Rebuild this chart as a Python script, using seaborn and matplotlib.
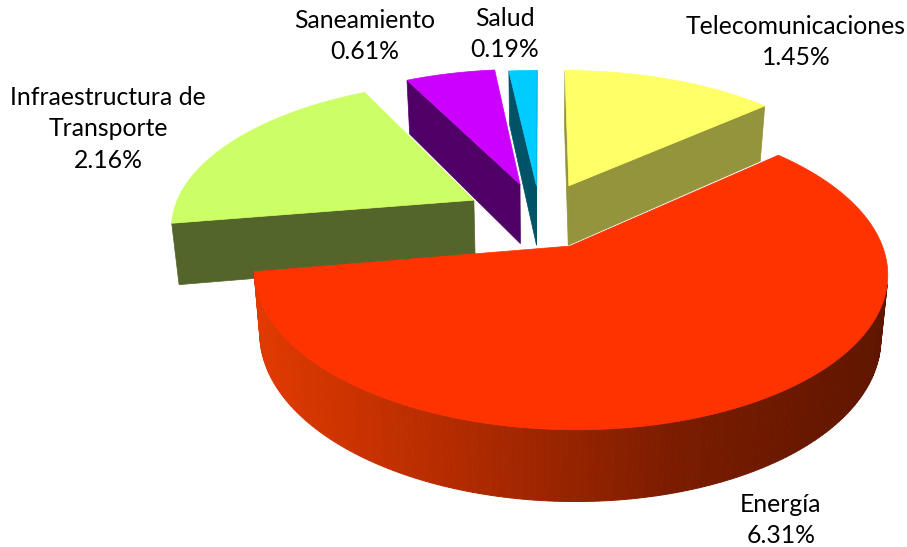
import numpy as np
import matplotlib
matplotlib.use("Agg")
import matplotlib.pyplot as plt
import seaborn as sns

# data
categories = ["Telecomunicaciones", "Energía", "Infraestructura de\nTransporte", "Saneamiento", "Salud"]
values = [1.45, 6.31, 2.16, 0.61, 0.19]
top_colors = ["#FFFF66", "#FF3300", "#CCFF66", "#CC00FF", "#00CCFF"]
side_colors = ["#94943C", "#661A00", "#53652B", "#4F0066", "#005266"]
explode = [0.24, 0.225, 0.25, 0.24, 0.22]
label_pos = [(796, 42), (781, 520), (108, 129), (365, 36), (505, 34)]

sns.set_theme(style="white")
plt.rcParams["font.family"] = ["Lato", "DejaVu Sans"]

# fake 3d camera, pixels
cx, cy = 540, 216
radius = 302
tilt = 143
dist = 6.17
depth = 61
shrink = 0.98


def project(X, Y):
    s = dist / (dist + Y)
    return cx + X * s * radius, cy - Y * s * tilt, s


def drop(p):
    x, y, s = p
    return cx + (x - cx) * shrink, y + depth * s**0.75


def area(pts):
    pts = np.array(pts)
    x, y = pts[:, 0], pts[:, 1]
    return np.sum(x * np.roll(y, -1) - np.roll(x, -1) * y)


fig, ax = plt.subplots(figsize=(9.07, 5.47), dpi=100)
ax.set_position([0, 0, 1, 1])
ax.set_xlim(0, 907)
ax.set_ylim(547, 0)
ax.axis("off")

rim_shades = sns.blend_palette(["#E03A00", "#B02A00", "#7A1C00", "#5E1500"], 200)


def draw_slice(a0, a1, top, side, off, shaded=False):
    mid = (a0 + a1) / 2
    ox, oy = off * np.sin(mid), off * np.cos(mid)
    tip = project(ox, oy)
    angs = np.linspace(a0, a1, max(int(np.degrees(a1 - a0)), 2) + 1)
    rim = [project(ox + np.sin(a), oy + np.cos(a)) for a in angs]

    # radial cuts, only the ones facing the viewer
    for a, b in [(tip, rim[-1]), (rim[0], tip)]:
        quad = [a[:2], b[:2], drop(b), drop(a)]
        if area(quad) > 0:
            ax.fill(*zip(*quad), color=side, lw=0.5)

    # outer wall
    for p, q in zip(rim[:-1], rim[1:]):
        quad = [p[:2], q[:2], drop(q), drop(p)]
        if area(quad) < 0:
            c = side
            if shaded:
                i = int(np.clip((p[0] - 255) / 640 * 199, 0, 199))
                c = rim_shades[i]
            ax.fill(*zip(*quad), color=c, lw=0.7)

    face = [tip[:2]] + [p[:2] for p in rim]
    ax.fill(*zip(*face), color=top, lw=0.5)


total = sum(values)
edges = np.cumsum([0] + values) / total * 2 * np.pi
slices = list(zip(edges[:-1], edges[1:], top_colors, side_colors, explode))

# back pieces first, energy goes on top
for i in [2, 3, 4, 0, 1]:
    a0, a1, top, side, off = slices[i]
    draw_slice(a0, a1, top, side, off, shaded=(i == 1))

for name, v, (x, y) in zip(categories, values, label_pos):
    ax.text(x, y, f"{name}\n{v:.2f}%", ha="center", va="center", fontsize=17.8,
            color="#000000", linespacing=1.45)

fig.savefig("out.png", dpi=100)
